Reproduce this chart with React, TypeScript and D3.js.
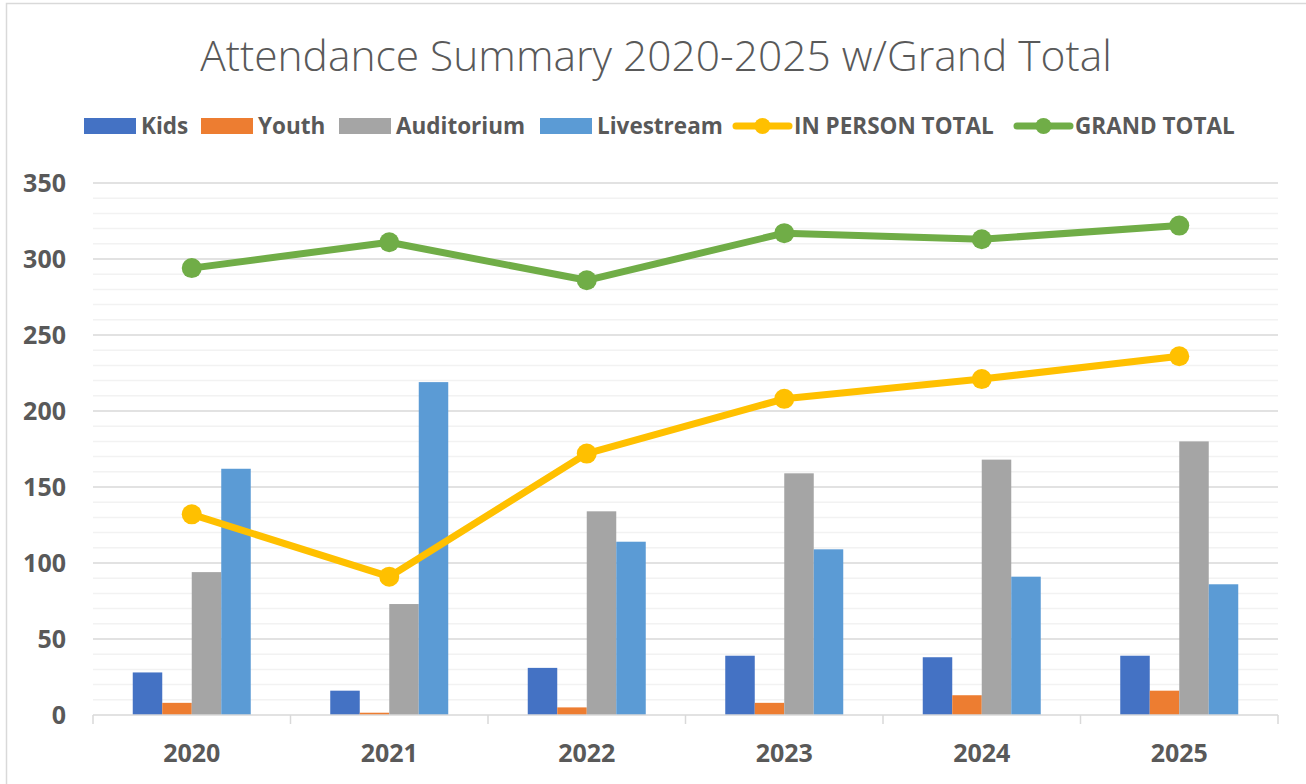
import React, { useEffect, useRef } from 'react';
import * as d3 from 'd3';

const years = ['2020', '2021', '2022', '2023', '2024', '2025'];
const kids = [28, 16, 31, 39, 38, 39];
const youth = [8, 1.5, 5, 8, 13, 16];
const auditorium = [94, 73, 134, 159, 168, 180];
const livestream = [162, 219, 114, 109, 91, 86];
const inPersonTotal = [132, 91, 172, 208, 221, 236];
const grandTotal = [294, 311, 286, 317, 313, 322];
const yTicks = [0, 50, 100, 150, 200, 250, 300, 350];

const barSeries = [
  { name: 'Kids', values: kids, color: '#4472c4' },
  { name: 'Youth', values: youth, color: '#ed7d31' },
  { name: 'Auditorium', values: auditorium, color: '#a5a5a5' },
  { name: 'Livestream', values: livestream, color: '#5b9bd5' },
];
const lineSeries = [
  { name: 'IN PERSON TOTAL', values: inPersonTotal, color: '#ffc000' },
  { name: 'GRAND TOTAL', values: grandTotal, color: '#70ad47' },
];

const W = 1306;
const H = 784;
const FONT = "'Open Sans', 'Noto Sans', sans-serif";
const TEXT = '#595959';

const App = () => {
  const ref = useRef<SVGSVGElement>(null);

  useEffect(() => {
    const svg = d3.select(ref.current);
    svg.selectAll('*').remove();

    const margin = { left: 93, right: 28, top: 183, bottom: 69 };
    const x0 = margin.left;
    const x1 = W - margin.right;
    const y0 = H - margin.bottom;

    svg.append('rect')
      .attr('width', W).attr('height', H).attr('fill', '#fff');
    // chart border
    svg.append('rect')
      .attr('x', 6.5).attr('y', 3.5)
      .attr('width', W + 10).attr('height', H + 10)
      .attr('fill', 'none').attr('stroke', '#d9d9d9').attr('stroke-width', 1.5);

    const x = d3.scaleBand<string>().domain(years).range([x0, x1]).padding(0);
    const y = d3.scaleLinear().domain([0, 350]).range([y0, margin.top]);
    const inner = d3.scaleBand<string>()
      .domain(barSeries.map(s => s.name))
      .range([0, 118]);
    const groupOffset = (x.bandwidth() - 118) / 2;

    // gridlines
    const minor = d3.range(0, 351, 10);
    svg.append('g').selectAll('line')
      .data(minor.filter(v => v % 50 !== 0))
      .enter().append('line')
      .attr('x1', x0).attr('x2', x1)
      .attr('y1', d => y(d)).attr('y2', d => y(d))
      .attr('stroke', '#f2f2f2').attr('stroke-width', 1.5);
    svg.append('g').selectAll('line')
      .data(yTicks.filter(v => v > 0))
      .enter().append('line')
      .attr('x1', x0).attr('x2', x1)
      .attr('y1', d => y(d)).attr('y2', d => y(d))
      .attr('stroke', '#d9d9d9').attr('stroke-width', 1.5);

    // y labels
    svg.append('g').selectAll('text')
      .data(yTicks)
      .enter().append('text')
      .attr('x', 66).attr('y', d => y(d))
      .attr('dy', '0.35em')
      .attr('text-anchor', 'end')
      .attr('font-family', FONT).attr('font-weight', 700)
      .attr('font-size', 25).attr('fill', TEXT)
      .text(d => d);

    // bars
    barSeries.forEach(s => {
      svg.append('g').selectAll('rect')
        .data(s.values)
        .enter().append('rect')
        .attr('x', (d, i) => (x(years[i]) as number) + groupOffset + (inner(s.name) as number))
        .attr('width', inner.bandwidth())
        .attr('y', d => y(d))
        .attr('height', d => y0 - y(d))
        .attr('fill', s.color);
    });

    // x axis
    svg.append('line')
      .attr('x1', x0).attr('x2', x1).attr('y1', y0).attr('y2', y0)
      .attr('stroke', '#d9d9d9').attr('stroke-width', 1.5);
    const bounds = years.map(d => x(d) as number).concat([x1]);
    svg.append('g').selectAll('line')
      .data(bounds)
      .enter().append('line')
      .attr('x1', d => d).attr('x2', d => d)
      .attr('y1', y0).attr('y2', y0 + 9)
      .attr('stroke', '#d9d9d9').attr('stroke-width', 1.5);
    svg.append('g').selectAll('text')
      .data(years)
      .enter().append('text')
      .attr('x', d => (x(d) as number) + x.bandwidth() / 2)
      .attr('y', 762)
      .attr('text-anchor', 'middle')
      .attr('font-family', FONT).attr('font-weight', 700)
      .attr('font-size', 25).attr('fill', TEXT)
      .text(d => d);

    // lines
    const cx = (i: number) => (x(years[i]) as number) + x.bandwidth() / 2;
    lineSeries.forEach(s => {
      const line = d3.line<number>().x((d, i) => cx(i)).y(d => y(d));
      svg.append('path')
        .datum(s.values)
        .attr('d', line)
        .attr('fill', 'none')
        .attr('stroke', s.color).attr('stroke-width', 7)
        .attr('stroke-linejoin', 'round').attr('stroke-linecap', 'round');
      svg.append('g').selectAll('circle')
        .data(s.values)
        .enter().append('circle')
        .attr('cx', (d, i) => cx(i)).attr('cy', d => y(d))
        .attr('r', 10).attr('fill', s.color);
    });

    // title
    svg.append('text')
      .attr('x', 656).attr('y', 71)
      .attr('text-anchor', 'middle')
      .attr('font-family', FONT).attr('font-weight', 300)
      .attr('font-size', 42.5).attr('fill', TEXT)
      .text('Attendance Summary 2020-2025 w/Grand Total');

    // legend
    const ly = 126;
    const barLegendX = [84, 201, 339, 540];
    barSeries.forEach((s, i) => {
      const g = svg.append('g').attr('transform', `translate(${barLegendX[i]},${ly})`);
      g.append('rect').attr('x', 0).attr('y', -8).attr('width', 52).attr('height', 16).attr('fill', s.color);
      g.append('text').attr('x', 57).attr('y', 0).attr('dy', '0.35em')
        .attr('font-family', FONT).attr('font-weight', 700)
        .attr('font-size', 22.5).attr('fill', TEXT).text(s.name);
    });
    const lineLegendX = [733, 1014];
    lineSeries.forEach((s, i) => {
      const g = svg.append('g').attr('transform', `translate(${lineLegendX[i]},${ly})`);
      g.append('line').attr('x1', 3).attr('x2', 56).attr('y1', 0).attr('y2', 0)
        .attr('stroke', s.color).attr('stroke-width', 7).attr('stroke-linecap', 'round');
      g.append('circle').attr('cx', 29.5).attr('cy', 0).attr('r', 8).attr('fill', s.color);
      g.append('text').attr('x', 61).attr('y', 0).attr('dy', '0.35em')
        .attr('font-family', FONT).attr('font-weight', 700)
        .attr('font-size', 22.5).attr('fill', TEXT).text(s.name);
    });
  }, []);

  return (
    <svg
      ref={ref}
      width={W}
      height={H}
      style={{ position: 'absolute', left: 0, top: 0 }}
    />
  );
};

export default App;
